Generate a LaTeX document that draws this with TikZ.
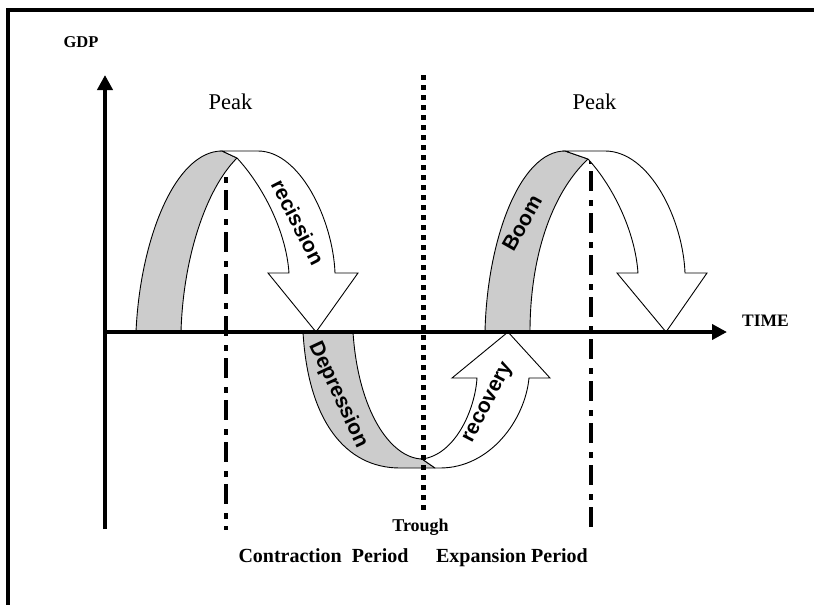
\documentclass[tikz,border=0pt]{standalone}
\usepackage{fontspec}
\setmainfont{Liberation Serif}
\newfontfamily\arialfont{Liberation Sans}
\usetikzlibrary{arrows.meta}

\tikzset{
  band/.style={draw=black, line width=0.9pt, fill=black!20, line join=round},
  flow/.style={draw=black, line width=0.9pt, fill=white, line join=miter},
  flowtext/.style={font=\arialfont\bfseries\fontsize{21}{21}\selectfont},
  axistext/.style={font=\bfseries\fontsize{16.5}{16.5}\selectfont},
  periodtext/.style={font=\bfseries\fontsize{20}{20}\selectfont},
  peaktext/.style={font=\fontsize{22.5}{22.5}\selectfont},
  axisline/.style={line width=4pt, -{Triangle[length=15pt,width=15pt]}},
  peakline/.style={line width=4pt, dash pattern=on 6pt off 7pt on 20pt off 9pt},
  troughline/.style={line width=5pt, dash pattern=on 5pt off 5pt}
}

\begin{document}
\begin{tikzpicture}[x=1pt,y=-1pt]
      \tikzstyle{every node}+=[inner sep=0pt]
      \useasboundingbox (0,0) rectangle (814,605);
      % frame
      \draw [black, line width=4pt] (8,605) -- (8,9.5) -- (814,9.5);
      % peak lines
      \draw [peakline] (226,177) -- (226,530);
      \draw [peakline] (591,158) -- (591,530);
      % first hump
      \draw [band] (136,332) .. controls (140,240) and (175,151) .. (222,151)
        -- (237,158) .. controls (205,190) and (183,260) .. (181,332) -- cycle;
      \draw [flow] (222,151) -- (258,151) .. controls (300,151) and (333,220) .. (335,273)
        -- (358,273) -- (316,332) -- (268,273) -- (289,273)
        .. controls (286,230) and (262,185) .. (237,158) -- cycle;
      \node [flowtext, rotate=-63] (recission) at (298,222) {recission};
      % trough
      \draw [band] (303,332) .. controls (308,420) and (345,468) .. (400,468) -- (435,468)
        -- (422,459) .. controls (390,458) and (358,410) .. (353,332) -- cycle;
      \draw [flow] (435,468) -- (440,468) .. controls (490,468) and (525,420) .. (529,378)
        -- (550,378) -- (508,332) -- (452,378) -- (477,378)
        .. controls (475,410) and (455,455) .. (422,459) -- cycle;
      \node [flowtext, rotate=-65] (depression) at (338,395) {Depression};
      \node [flowtext, rotate=62.6] (recovery) at (489,403) {recovery};
      % second hump
      \draw [band] (485,332) .. controls (487,240) and (520,151) .. (565,151)
        -- (588,159) .. controls (550,195) and (530,260) .. (530,332) -- cycle;
      \draw [flow] (565,151) -- (605,151) .. controls (650,151) and (683,220) .. (685,273)
        -- (707,273) -- (666,332) -- (617,273) -- (638,273)
        .. controls (635,230) and (612,185) .. (588,159) -- cycle;
      \node [flowtext, rotate=60.5] (boom) at (522,223) {Boom};
      % axes
      \coordinate (origin) at (105,332);
      \coordinate (ytip) at (105,75);
      \coordinate (yfoot) at (105,529);
      \coordinate (xtip) at (727,332);
      \draw [axisline] (yfoot) -- (ytip);
      \draw [axisline] (origin) -- (xtip);
      % trough line
      \draw [troughline] (423,75) -- (423,512);
      % labels
      \node [axistext, anchor=base] (gdp) at (81,47) {GDP};
      \node [axistext, font=\bfseries\fontsize{17.5}{17.5}\selectfont, anchor=base] (time) at (765.5,326) {TIME};
      \node [peaktext, anchor=base] (peakA) at (230.5,109) {Peak};
      \node [peaktext, anchor=base] (peakB) at (594.5,109) {Peak};
      \node [axistext, font=\bfseries\fontsize{18}{18}\selectfont, anchor=base] (trough) at (420.5,531) {Trough};
      \node [periodtext, anchor=base] (contraction) at (323.5,562) {Contraction\ \ Period};
      \node [periodtext, anchor=base] (expansion) at (512,562) {Expansion Period};
\end{tikzpicture}
\end{document}
